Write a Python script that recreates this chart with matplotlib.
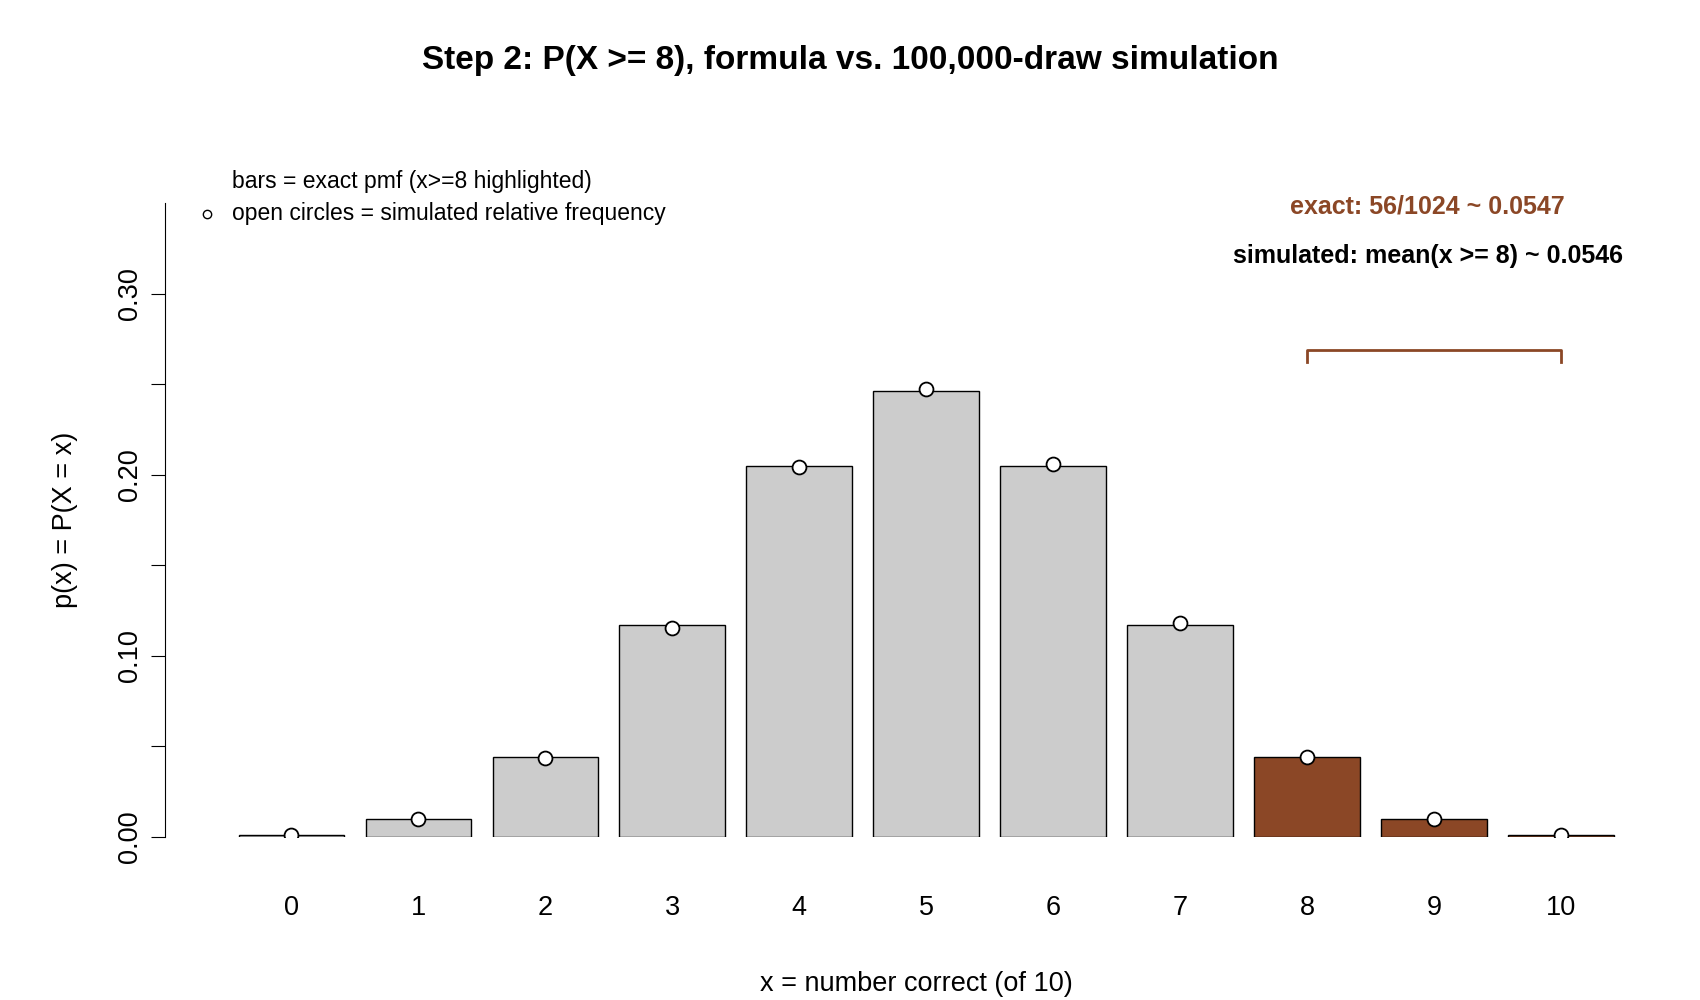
import matplotlib
matplotlib.use("Agg")
import matplotlib.pyplot as plt

plt.rcParams['font.family'] = ['Liberation Sans', 'DejaVu Sans']

x = [0, 1, 2, 3, 4, 5, 6, 7, 8, 9, 10]
pmf = [0.00098, 0.00977, 0.04395, 0.11719, 0.20508, 0.24609, 0.20508, 0.11719, 0.04395, 0.00977, 0.00098]
sim = [0.0010, 0.0099, 0.0437, 0.1155, 0.2040, 0.2475, 0.2060, 0.1180, 0.0440, 0.0097, 0.0009]
ticklabels = [str(i) for i in x]
brown = '#8B4726'
grey = '#CCCCCC'

fig = plt.figure(figsize=(17, 10), dpi=100)
ax = fig.add_axes([0.097, 0.163, 0.884, 0.634])
colors = [brown if v >= 8 else grey for v in x]
ax.bar(x, pmf, width=0.83, color=colors, edgecolor='black', linewidth=1)
ax.plot(x, sim, 'o', mfc='white', mec='black', ms=10, mew=1.3, zorder=3)
ax.set_xlim(-0.995, 10.84)
ax.set_ylim(0, 0.35)
for s in ['top', 'right', 'bottom']:
    ax.spines[s].set_visible(False)
ax.spines['left'].set_bounds(0, 0.35)
ax.set_yticks([0, 0.05, 0.10, 0.15, 0.20, 0.25, 0.30])
ax.set_yticklabels(['0.00', '', '0.10', '', '0.20', '', '0.30'], rotation=90, va='center', fontsize=19.5)
ax.tick_params(axis='y', length=10, pad=6)
ax.set_xticks(x)
ax.set_xticklabels(ticklabels, fontsize=19.5)
ax.tick_params(axis='x', length=0, pad=42)
ax.set_xlabel('x = number correct (of 10)', fontsize=19.5, labelpad=36)
ax.set_ylabel('p(x) = P(X = x)', fontsize=19.5, labelpad=28)
fig.suptitle('Step 2: P(X >= 8), formula vs. 100,000-draw simulation', fontsize=24, fontweight='bold', y=0.955)

# legend-like text
ax.text(-0.47, 0.362, 'bars = exact pmf (x>=8 highlighted)', fontsize=16.5, va='center', clip_on=False)
ax.text(-0.47, 0.344, 'open circles = simulated relative frequency', fontsize=16.5, va='center', clip_on=False)
ax.plot([-0.66], [0.344], 'o', mfc='white', mec='black', ms=6, clip_on=False)

ax.text(8.95, 0.348, 'exact: 56/1024 ~ 0.0547', color=brown, fontsize=18, fontweight='bold', ha='center', va='center')
ax.text(8.95, 0.3205, 'simulated: mean(x >= 8) ~ 0.0546', color='black', fontsize=18, fontweight='bold', ha='center', va='center')
ax.plot([8, 8, 10, 10], [0.262, 0.269, 0.269, 0.262], color=brown, lw=2)

fig.savefig('out.png', dpi=100)
